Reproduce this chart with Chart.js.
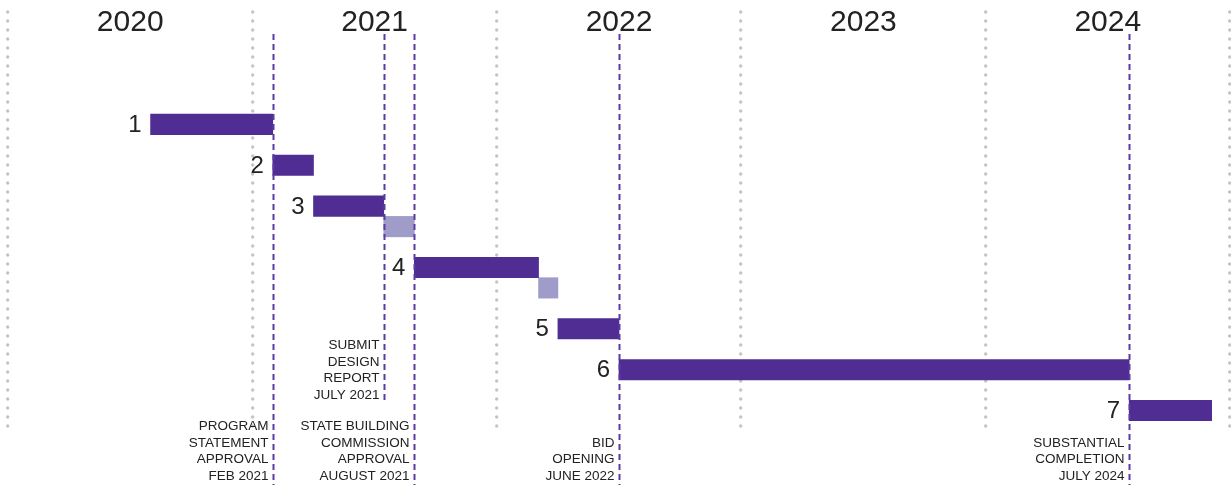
<!DOCTYPE html>
<html>
<head>
<meta charset="utf-8">
<script src="https://cdn.jsdelivr.net/npm/chart.js@4.4.1/dist/chart.umd.min.js"></script>
<style>
  body { margin: 0; background: #fff; }
  #wrap { width: 1231px; height: 485px; }
</style>
</head>
<body>
<div id="wrap"><canvas id="timeline"></canvas></div>
<script>
// x values are months counted from Jan 2020, rows are half-row steps from the top
var Years = ['2020', '2021', '2022', '2023', '2024'];
var PhaseNames = ['1', '2', '3', '4', '5', '6', '7'];
var PhaseRows = [0, 2, 4, 7, 10, 12, 14];
var PhaseStart = [7, 13, 15, 19.95, 27, 30, 55.05];
var PhaseEnd = [13, 15, 18.45, 26.05, 30, 55.05, 59.1];
var ReviewRows = [5, 8];
var ReviewStart = [18.45, 26.05];
var ReviewEnd = [19.95, 27];
var MilestoneDates = [13, 18.45, 19.95, 30, 55.05];
var MilestoneText = [
    ['PROGRAM', 'STATEMENT', 'APPROVAL', 'FEB 2021'],
    ['SUBMIT', 'DESIGN', 'REPORT', 'JULY 2021'],
    ['STATE BUILDING', 'COMMISSION', 'APPROVAL', 'AUGUST 2021'],
    ['BID', 'OPENING', 'JUNE 2022'],
    ['SUBSTANTIAL', 'COMPLETION', 'JULY 2024']
];

function toBars(rows, starts, ends) {
    return rows.map(function (r, i) {
        return { y: r, x: [starts[i], ends[i]] };
    });
}

var FONT = '"Liberation Sans", Arial, sans-serif';
Chart.defaults.font.family = FONT;

var timelineText = {
    id: 'timelineText',
    beforeDraw: function (chart) {
        // round caps make the dotted year lines
        chart.ctx.lineCap = 'round';
    },
    afterDatasetsDraw: function (chart) {
        var ctx = chart.ctx;
        var xs = chart.scales.x;
        ctx.save();
        ctx.lineCap = 'butt';
        ctx.fillStyle = '#222';

        // year labels, centred in each year
        ctx.font = '30px ' + FONT;
        ctx.textAlign = 'center';
        ctx.textBaseline = 'middle';
        Years.forEach(function (y, i) {
            ctx.fillText(y, xs.getPixelForValue(i * 12 + 6), 23);
        });

        // phase numbers left of each bar
        ctx.font = '24px ' + FONT;
        ctx.textAlign = 'right';
        chart.getDatasetMeta(0).data.forEach(function (bar, i) {
            var p = bar.getProps(['base', 'y'], true);
            ctx.fillText(PhaseNames[i], p.base - 9, p.y + 1);
        });

        // milestones: dashed line + label
        var lift = { 1: 81 };
        ctx.font = '13.5px ' + FONT;
        MilestoneDates.forEach(function (d, i) {
            var x = Math.round(xs.getPixelForValue(d)) + 0.5;
            var up = lift[i] || 0;
            var lines = MilestoneText[i];
            var last = chart.height - 9 - up;
            ctx.strokeStyle = '#5a3aa3';
            ctx.lineWidth = 2;
            ctx.setLineDash([6, 4]);
            ctx.beginPath();
            ctx.moveTo(x, 34);
            ctx.lineTo(x, up ? last + 6 : chart.height);
            ctx.stroke();
            lines.forEach(function (t, k) {
                ctx.fillText(t, x - 5, last - (lines.length - 1 - k) * 16.5);
            });
        });
        ctx.restore();
    }
};

var ctx = document.getElementById('timeline').getContext('2d');
var timeline = new Chart(ctx, {
    type: 'bar',
    data: {
        datasets: [{
            label: 'Phase',
            data: toBars(PhaseRows, PhaseStart, PhaseEnd),
            backgroundColor: '#4f2d92',
            borderWidth: 0
        },
            {
                label: 'Review',
                data: toBars(ReviewRows, ReviewStart, ReviewEnd),
                backgroundColor: '#9f9cc9',
                borderWidth: 0
            }]
    },
    options: {
        indexAxis: 'y',
        responsive: true,
        maintainAspectRatio: false,
        animation: false,
        grouped: false,
        barPercentage: 1,
        categoryPercentage: 1,
        layout: { padding: { top: 12, bottom: 54, left: 8, right: 1 } },
        plugins: {
            legend: { display: false },
            tooltip: { enabled: false }
        },
        scales: {
            x: {
                type: 'linear',
                min: 0,
                max: 60,
                offset: false,
                ticks: { display: false, stepSize: 12 },
                grid: { color: '#c4c4c4', lineWidth: 3.4, drawTicks: false },
                border: { display: false, dash: [0, 9] }
            },
            y: {
                type: 'linear',
                reverse: true,
                offset: false,
                min: -5.5,
                max: 15,
                display: false,
                ticks: { stepSize: 20 }
            }
        }
    },
    plugins: [timelineText]
});
</script>
</body>
</html>
